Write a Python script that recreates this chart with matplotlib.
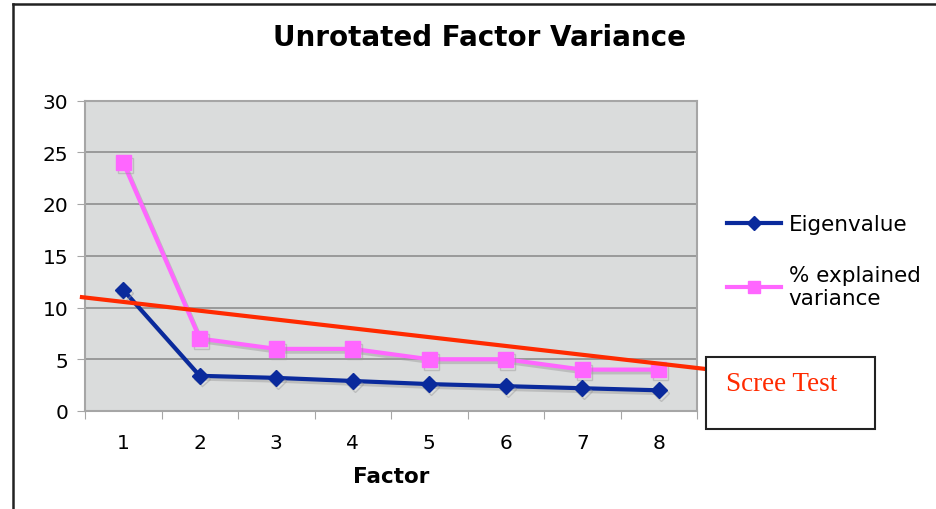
import matplotlib
matplotlib.use("Agg")
import matplotlib.pyplot as plt
import matplotlib.patheffects as pe
from matplotlib.patches import Rectangle
from matplotlib.lines import Line2D

factors = [1, 2, 3, 4, 5, 6, 7, 8]
eigenvalue = [11.7, 3.4, 3.2, 2.9, 2.6, 2.4, 2.2, 2.0]
pct_explained = [24, 7, 6, 6, 5, 5, 4, 4]
scree_x = [0.46, 9.0]
scree_y = [11.0, 3.73]
yticks = [0, 5, 10, 15, 20, 25, 30]

W, H = 937, 510
fig = plt.figure(figsize=(W / 100, H / 100), dpi=100)
fig.patch.set_facecolor("white")

ax = fig.add_axes([85 / W, 1 - 412 / H, 612 / W, 310.5 / H])
ax.set_facecolor("#dadcdc")
ax.set_xlim(0.5, 8.5)
ax.set_ylim(0, 30)

for s in ax.spines.values():
    s.set_color("#a6a6a6")
    s.set_linewidth(1.5)

ax.set_yticks(yticks)
ax.yaxis.grid(True, color="#8e8e8e", linewidth=1.2)
ax.set_axisbelow(True)
ax.tick_params(axis="y", direction="out", length=6, color="#a6a6a6", labelsize=14.5, pad=6)

# category ticks between categories, labels at centers
ax.set_xticks([0.5 + i for i in range(9)])
ax.set_xticklabels([])
ax.set_xticks(factors, minor=True)
ax.set_xticklabels([str(f) for f in factors], minor=True)
ax.tick_params(axis="x", which="major", direction="out", length=6, color="#a6a6a6")
ax.tick_params(axis="x", which="minor", length=0, labelsize=14.5, pad=16)

shadow = [pe.SimpleLineShadow(offset=(1.5, -2), shadow_color="#999999", alpha=0.45), pe.Normal()]

ax.plot(factors, eigenvalue, color="#0a2a9c", linewidth=3, marker="D", markersize=8,
        path_effects=shadow, zorder=4, clip_on=False)
ax.plot(factors, pct_explained, color="#ff66ff", linewidth=3, marker="s", markersize=11,
        path_effects=shadow, zorder=3, clip_on=False)

ax.plot(scree_x, scree_y, color="#ff2a00", linewidth=3, clip_on=False, zorder=5)

ax.set_xlabel("Factor", fontsize=15.5, fontweight="bold", labelpad=10)

fig.text(480 / W, 1 - 38 / H, "Unrotated Factor Variance", fontsize=20, fontweight="bold",
         ha="center", va="center")

# legend
handles = [
    Line2D([], [], color="#0a2a9c", linewidth=3, marker="D", markersize=7),
    Line2D([], [], color="#ff66ff", linewidth=3, marker="s", markersize=9),
]
fig.legend(handles, ["Eigenvalue", "% explained\nvariance"], loc="upper left",
           bbox_to_anchor=(708 / W, 1 - 196 / H), frameon=False, fontsize=15.5,
           handlelength=2.5, handletextpad=0.35, labelspacing=1.4)

# Scree Test box (figure coords), above the red line
box = Rectangle((706 / W, 1 - 430 / H), 169 / W, 72 / H, transform=fig.transFigure,
                facecolor="white", edgecolor="#222222", linewidth=1.5, zorder=10)
fig.add_artist(box)
fig.text(726 / W, 1 - 385 / H, "Scree Test", fontsize=19.5, color="#ff2a00",
         family="Liberation Serif", ha="left", va="center", zorder=11)

# outer frame
fig.add_artist(Line2D([13 / W, 13 / W], [0, 1 - 5 / H], transform=fig.transFigure,
                      color="#222222", linewidth=1.8))
fig.add_artist(Line2D([13 / W, 1], [1 - 5 / H, 1 - 5 / H], transform=fig.transFigure,
                      color="#222222", linewidth=1.8))

fig.savefig("out.png", dpi=100)
